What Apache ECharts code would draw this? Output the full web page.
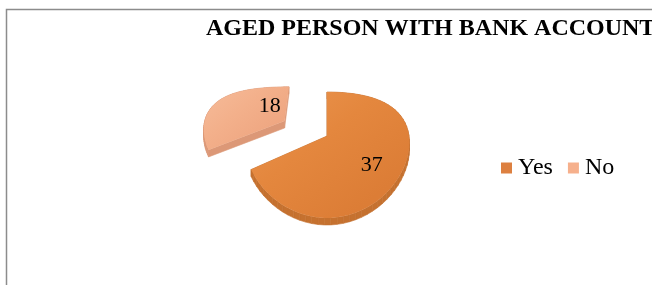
<!DOCTYPE html>
<html>
<head>
<meta charset="utf-8">
<script src="https://cdn.jsdelivr.net/npm/echarts@6/dist/echarts.min.js"></script>
<style>
  html, body { margin: 0; padding: 0; background: #fff; }
  #chart { width: 652px; height: 285px; }
</style>
</head>
<body>
<div id="chart"></div>
<script>
const titleText = 'AGED PERSON WITH BANK ACCOUNT'
const categories = ['Yes', 'No']
const values = [37, 18]

// look of the tilted pie (screen px)
const topColors = [['#eb9650', '#e4873e', '#dc7d36'], ['#f6bc9a', '#f3b08b', '#eea580']]
const sideColors = ['#c5712f', '#dc9877']
const legendColors = ['#dd8040', '#f6b08c']
const explode = [[0, 0], [0.62, 0.5]]
const labelAt = [[0.53, 0.67], [0.71, 0.37]]
const CX = 327, CY = 136, A = 82, K = 0.1, B = 63, C = 19, T = 7

const total = values.reduce((a, b) => a + b, 0)

function proj(u, v) {
    return [CX + A * u * (1 + K * v), CY + B * v + C * v * v]
}

function makeRender(i) {
    return function (params, api) {
        const s = api.value(0) / total * Math.PI * 2
        const e = api.value(1) / total * Math.PI * 2
        const mid = (s + e) / 2
        const du = explode[i][0] * Math.sin(mid)
        const dv = -explode[i][1] * Math.cos(mid)

        const pts = [proj(du, dv)]
        const n = 60
        for (let k = 0; k <= n; k++) {
            const t = s + (e - s) * k / n
            pts.push(proj(du + Math.sin(t), dv - Math.cos(t)))
        }

        const children = []
        for (let k = 0; k < pts.length; k++) {
            const p = pts[k], q = pts[(k + 1) % pts.length]
            children.push({
                type: 'polygon',
                shape: { points: [p, q, [q[0], q[1] + T], [p[0], p[1] + T]] },
                style: { fill: sideColors[i], stroke: sideColors[i], lineWidth: 0.6 }
            })
        }
        children.push({
            type: 'polygon',
            shape: { points: pts },
            style: {
                fill: new echarts.graphic.LinearGradient(0, 0, 0.6, 1, [
                    { offset: 0, color: topColors[i][0] },
                    { offset: 0.5, color: topColors[i][1] },
                    { offset: 1, color: topColors[i][2] }
                ])
            }
        })

        const la = s + (e - s) * labelAt[i][0]
        const lr = labelAt[i][1]
        const lp = proj(du + lr * Math.sin(la), dv - lr * Math.cos(la))
        children.push({
            type: 'text',
            style: {
                text: String(api.value(2)),
                x: lp[0], y: lp[1],
                align: 'center', verticalAlign: 'middle',
                font: '22px "Liberation Serif", "Times New Roman", serif',
                fill: '#000'
            }
        })
        return { type: 'group', children }
    }
}

let acc = 0
const series = categories.map((name, i) => {
    const start = acc
    acc += values[i]
    return {
        type: 'custom',
        name,
        coordinateSystem: 'none',
        z: 10 - i,
        itemStyle: { color: legendColors[i] },
        data: [[start, acc, values[i]]],
        renderItem: makeRender(i)
    }
})

const myChart = echarts.init(document.getElementById('chart'))
myChart.setOption({
    animation: false,
    title: {
        text: titleText,
        left: 206,
        top: 17,
        padding: 0,
        textStyle: { fontFamily: 'Liberation Serif', fontWeight: 'bold', fontSize: 24, color: '#000' }
    },
    legend: {
        data: categories,
        left: 501,
        top: 156,
        padding: 0,
        icon: 'rect',
        itemWidth: 11,
        itemHeight: 11,
        itemGap: 15,
        textStyle: { fontFamily: 'Liberation Serif', fontSize: 24, color: '#000', padding: [0, 0, 0, 1] }
    },
    graphic: [{
        type: 'rect',
        silent: true,
        shape: { x: 6.5, y: 9.5, width: 700, height: 300 },
        style: { fill: 'none', stroke: '#8c8c8c', lineWidth: 1.5 }
    }],
    series
})
</script>
</body>
</html>
